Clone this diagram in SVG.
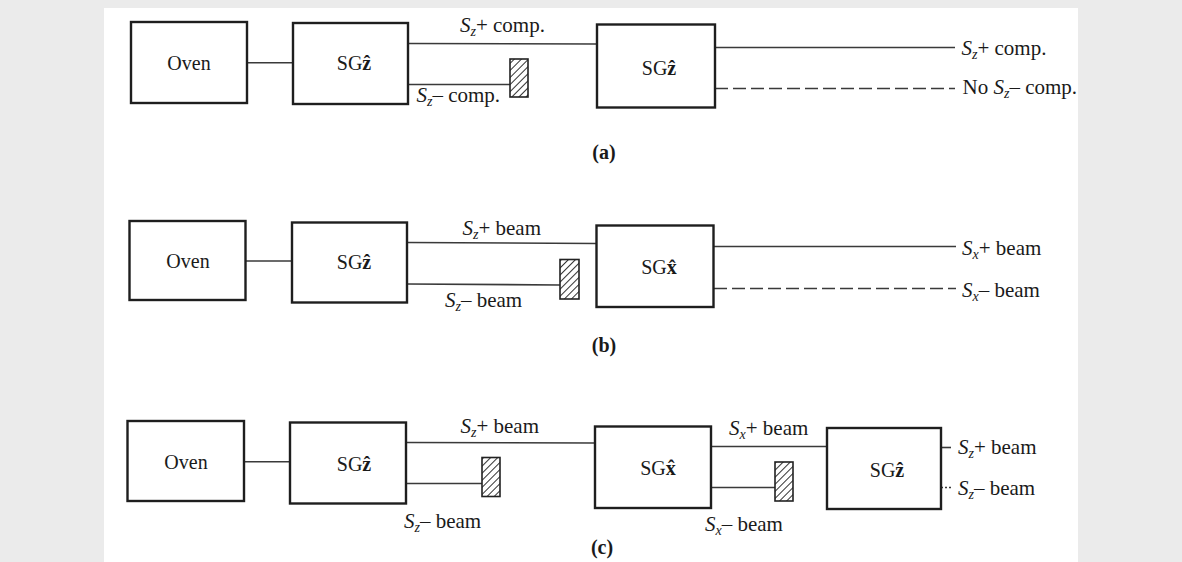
<svg xmlns="http://www.w3.org/2000/svg" width="1182" height="562" viewBox="0 0 1182 562">
<style>
.box{fill:#fff;stroke:#1e1e1e;stroke-width:2.4}
.ln{stroke:#3a3a3a;stroke-width:1.6;fill:none}
.dash{stroke:#3a3a3a;stroke-width:1.6;fill:none;stroke-dasharray:13 5}
.dot{stroke:#3a3a3a;stroke-width:1.4;fill:none;stroke-dasharray:2 2}
.hatch{fill:url(#hp);stroke:#222;stroke-width:1.6}
text{font-family:"Liberation Serif","Times New Roman",serif;fill:#1a1a1a}
.nt{font-size:20px;text-anchor:middle}
.lb{font-size:21px}
.cap{font-size:20px;font-weight:bold;text-anchor:middle}
.it{font-style:italic}
.sub{font-style:italic;font-size:14px}
.hat{font-weight:bold}
</style>
<defs>
<pattern id="hp" patternUnits="userSpaceOnUse" width="5" height="5" patternTransform="rotate(45)">
<rect width="5" height="5" fill="#fff"/>
<line x1="0" y1="0" x2="0" y2="5" stroke="#333" stroke-width="2"/>
</pattern>
</defs>
<rect x="0" y="0" width="1182" height="562" fill="#ebebeb"/>
<rect x="104" y="8" width="974" height="554" fill="#fff"/>

<g id="connectors">
<!-- (a) -->
<line class="ln" x1="247" y1="62.7" x2="293" y2="62.7"/>
<line class="ln" x1="408" y1="43.5" x2="597" y2="44"/>
<line class="ln" x1="408" y1="84.5" x2="510" y2="84.5"/>
<line class="ln" x1="715" y1="47.5" x2="955" y2="47.5"/>
<line class="dash" x1="715" y1="88.5" x2="955" y2="88.5"/>
<!-- (b) -->
<line class="ln" x1="246" y1="261" x2="292" y2="261"/>
<line class="ln" x1="407" y1="242.5" x2="596" y2="243.5"/>
<line class="ln" x1="407" y1="284" x2="560" y2="285"/>
<line class="ln" x1="714" y1="246.5" x2="956" y2="246.5"/>
<line class="dash" x1="714" y1="288.5" x2="956" y2="288.5"/>
<!-- (c) -->
<line class="ln" x1="244" y1="461.7" x2="290" y2="461.7"/>
<line class="ln" x1="406" y1="442.5" x2="595" y2="443"/>
<line class="ln" x1="406" y1="483.5" x2="482" y2="483.5"/>
<line class="ln" x1="711" y1="446.5" x2="827" y2="446.5"/>
<line class="ln" x1="711" y1="487.5" x2="775" y2="487.5"/>
<line class="ln" x1="941" y1="447.5" x2="951" y2="447.5"/>
<line class="dot" x1="941" y1="487.5" x2="951" y2="487.5"/>
</g>

<g id="stops">
<rect class="hatch" x="510" y="59" width="18" height="38"/>
<rect class="hatch" x="560" y="259.5" width="19" height="39.5"/>
<rect class="hatch" x="482" y="457.5" width="18" height="39"/>
<rect class="hatch" x="775" y="462" width="18" height="39"/>
</g>

<g id="a-oven"><rect class="box" x="131" y="22" width="116" height="81"/><text class="nt" x="189" y="69.5">Oven</text></g>
<g id="a-sg1"><rect class="box" x="293" y="23" width="115" height="81"/><text class="nt" x="354" y="69.5">SG<tspan class="hat">ẑ</tspan></text></g>
<g id="a-sg2"><rect class="box" x="597" y="24.5" width="118" height="83"/><text class="nt" x="659" y="75">SG<tspan class="hat">ẑ</tspan></text></g>

<g id="b-oven"><rect class="box" x="129.5" y="221" width="116" height="79"/><text class="nt" x="188" y="268">Oven</text></g>
<g id="b-sg1"><rect class="box" x="292" y="222.5" width="115" height="80"/><text class="nt" x="354" y="269">SG<tspan class="hat">ẑ</tspan></text></g>
<g id="b-sg2"><rect class="box" x="596.5" y="225.5" width="117" height="81.5"/><text class="nt" x="659" y="274">SG<tspan class="hat">x̂</tspan></text></g>

<g id="c-oven"><rect class="box" x="127.5" y="421" width="116.5" height="80"/><text class="nt" x="186" y="468.5">Oven</text></g>
<g id="c-sg1"><rect class="box" x="290" y="422.5" width="116" height="81"/><text class="nt" x="354" y="471">SG<tspan class="hat">ẑ</tspan></text></g>
<g id="c-sg2"><rect class="box" x="595" y="426.5" width="116" height="81.5"/><text class="nt" x="658" y="474.5">SG<tspan class="hat">x̂</tspan></text></g>
<g id="c-sg3"><rect class="box" x="827" y="428" width="114" height="81"/><text class="nt" x="887" y="477">SG<tspan class="hat">ẑ</tspan></text></g>

<g id="labels">
<text class="lb" x="460" y="32"><tspan class="it">S</tspan><tspan class="sub" dy="4">z</tspan><tspan dy="-4">+ comp.</tspan></text>
<text class="lb" x="416.5" y="102"><tspan class="it">S</tspan><tspan class="sub" dy="4">z</tspan><tspan dy="-4">– comp.</tspan></text>
<text class="lb" x="961.5" y="55"><tspan class="it">S</tspan><tspan class="sub" dy="4">z</tspan><tspan dy="-4">+ comp.</tspan></text>
<text class="lb" x="962.5" y="94">No <tspan class="it">S</tspan><tspan class="sub" dy="4">z</tspan><tspan dy="-4">– comp.</tspan></text>
<text class="cap" x="604" y="159">(a)</text>

<text class="lb" x="462.5" y="235"><tspan class="it">S</tspan><tspan class="sub" dy="4">z</tspan><tspan dy="-4">+ beam</tspan></text>
<text class="lb" x="445" y="306.5"><tspan class="it">S</tspan><tspan class="sub" dy="4">z</tspan><tspan dy="-4">– beam</tspan></text>
<text class="lb" x="962" y="255"><tspan class="it">S</tspan><tspan class="sub" dy="4">x</tspan><tspan dy="-4">+ beam</tspan></text>
<text class="lb" x="962" y="297"><tspan class="it">S</tspan><tspan class="sub" dy="4">x</tspan><tspan dy="-4">– beam</tspan></text>
<text class="cap" x="604" y="352">(b)</text>

<text class="lb" x="460.5" y="433"><tspan class="it">S</tspan><tspan class="sub" dy="4">z</tspan><tspan dy="-4">+ beam</tspan></text>
<text class="lb" x="404" y="528"><tspan class="it">S</tspan><tspan class="sub" dy="4">z</tspan><tspan dy="-4">– beam</tspan></text>
<text class="lb" x="729" y="435"><tspan class="it">S</tspan><tspan class="sub" dy="4">x</tspan><tspan dy="-4">+ beam</tspan></text>
<text class="lb" x="705" y="531"><tspan class="it">S</tspan><tspan class="sub" dy="4">x</tspan><tspan dy="-4">– beam</tspan></text>
<text class="lb" x="958" y="454"><tspan class="it">S</tspan><tspan class="sub" dy="4">z</tspan><tspan dy="-4">+ beam</tspan></text>
<text class="lb" x="958" y="495"><tspan class="it">S</tspan><tspan class="sub" dy="4">z</tspan><tspan dy="-4">– beam</tspan></text>
<text class="cap" x="602" y="554">(c)</text>
</g>
</svg>
